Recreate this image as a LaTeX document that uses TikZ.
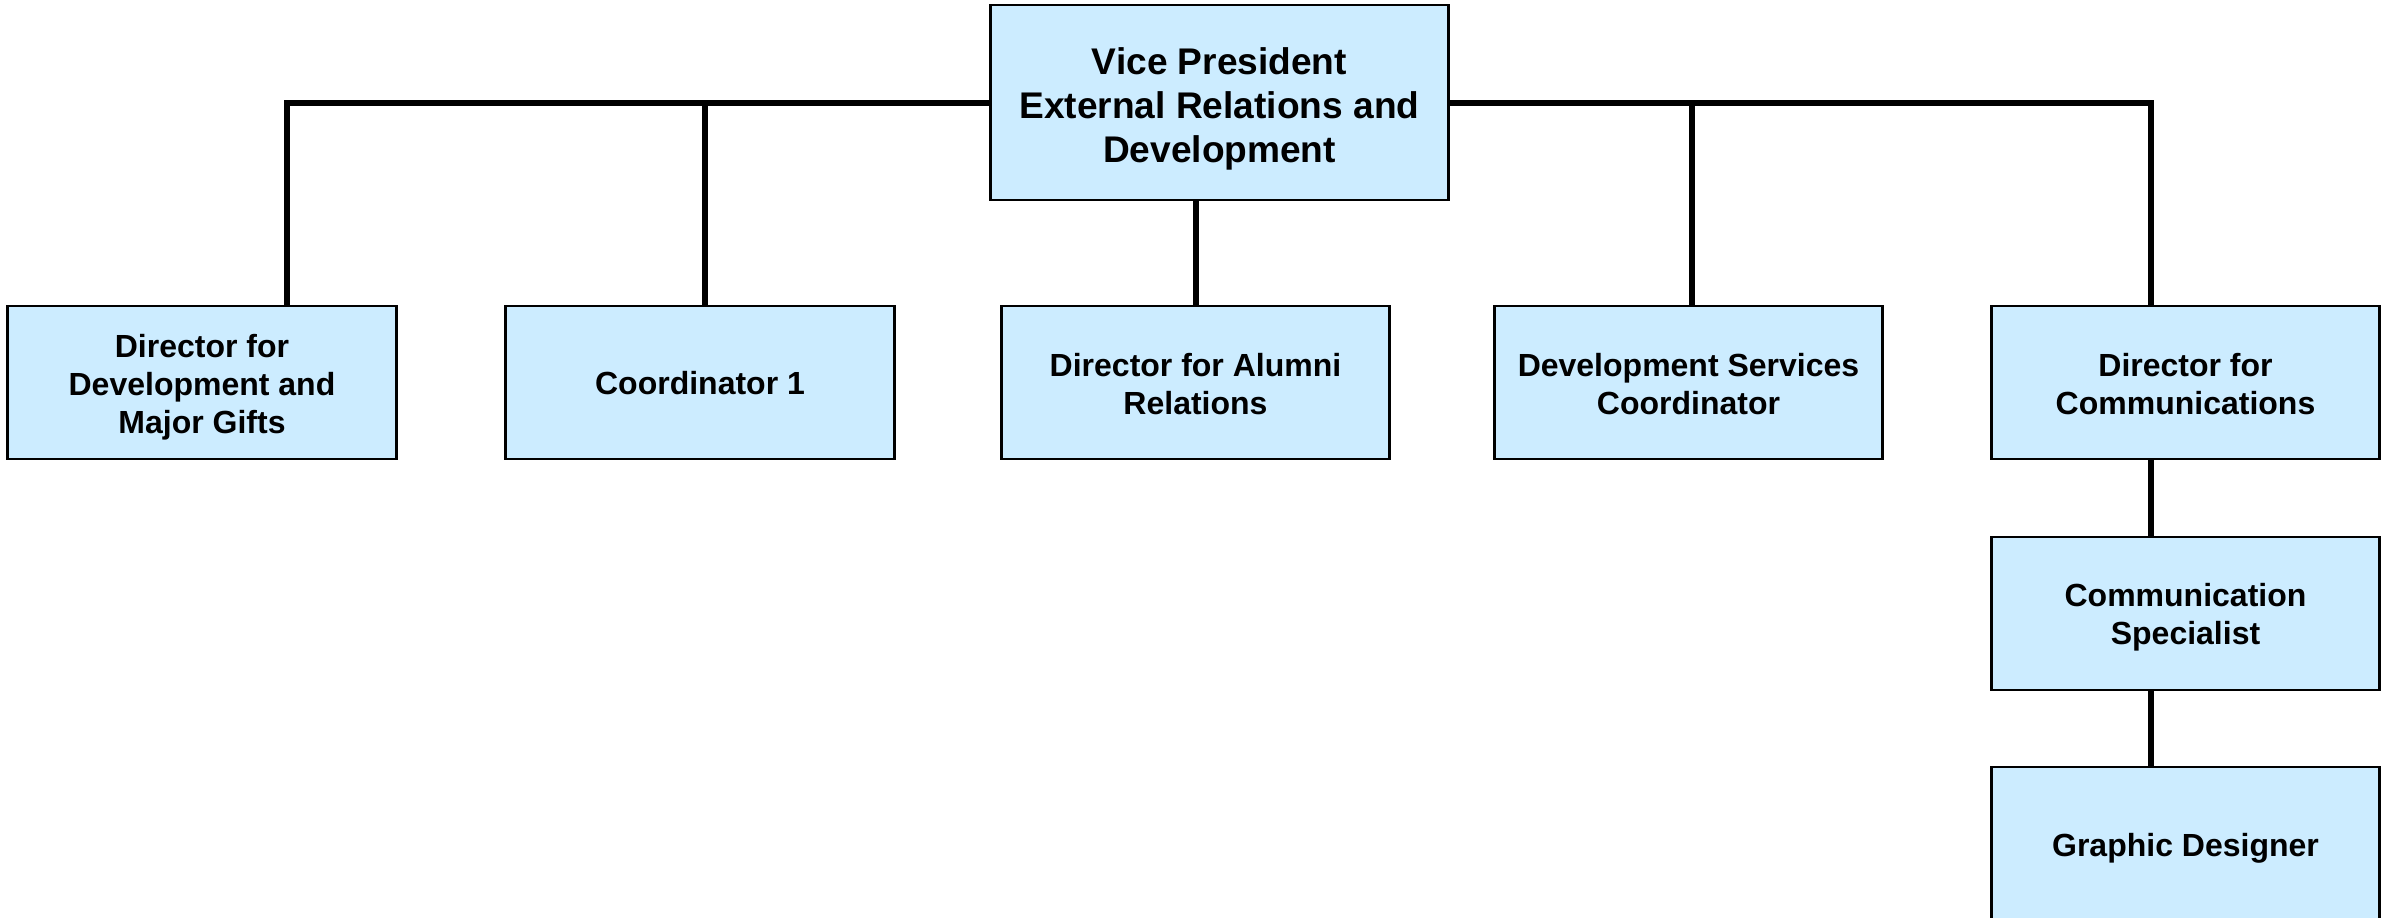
\documentclass[tikz,border=0pt]{standalone}
\usepackage{fontspec}
\setmainfont{Liberation Sans}
\definecolor{boxfill}{RGB}{204,236,255}
\newcommand{\boxtext}[2][1.3pt]{\raisebox{-#1}[\height][\depth]{\begin{tabular}{@{}c@{}}#2\end{tabular}}}
\tikzset{
  orgbox/.style={draw=black, line width=0.8pt, fill=boxfill, minimum width=3.88cm, minimum height=1.53cm, inner sep=0pt, font=\bfseries\fontsize{9.1pt}{10.8pt}\selectfont},
  vpbox/.style={orgbox, minimum width=4.57cm, minimum height=1.95cm, font=\bfseries\fontsize{10.55pt}{12.5pt}\selectfont},
  link/.style={line width=1.7pt, line join=miter}
}
\begin{document}
\begin{tikzpicture}[x=0.01cm, y=-0.01cm]
\useasboundingbox (0,0) rectangle (2394,917);
% boxes
\node[vpbox] (vp) at (1219.5,102.5) {\boxtext[2pt]{Vice President\\External Relations and\\Development}};
\node[orgbox] (b1) at (202,382.5) {\boxtext[1.6pt]{Director for\\Development and\\Major Gifts}};
\node[orgbox] (b2) at (700,382.5) {\boxtext{Coordinator 1}};
\node[orgbox] (b3) at (1195.5,382.5) {\boxtext[1.6pt]{Director for Alumni\\Relations}};
\node[orgbox] (b4) at (1688.5,382.5) {\boxtext[1.6pt]{Development Services\\Coordinator}};
\node[orgbox] (b5) at (2185.5,382.5) {\boxtext[1.6pt]{Director for\\Communications}};
\node[orgbox] (b6) at (2185.5,613.5) {\boxtext{Communication\\Specialist}};
\node[orgbox] (b7) at (2185.5,843.5) {\boxtext[1.6pt]{Graphic Designer}};
% connectors
\draw[link] ([xshift=0.85cm]b1.north) |- (vp.west);
\draw[link] ([xshift=0.05cm]b2.north) -- ([xshift=0.05cm]b2.north |- vp.west);
\draw[link] (b3.north) -- (b3.north |- vp.south);
\draw[link] ([xshift=0.035cm]b4.north) -- ([xshift=0.035cm]b4.north |- vp.east);
\draw[link] ([xshift=-0.345cm]b5.north) |- (vp.east);
\draw[link] ([xshift=-0.345cm]b5.south) -- ([xshift=-0.345cm]b6.north);
\draw[link] ([xshift=-0.345cm]b6.south) -- ([xshift=-0.345cm]b7.north);
\end{tikzpicture}
\end{document}
